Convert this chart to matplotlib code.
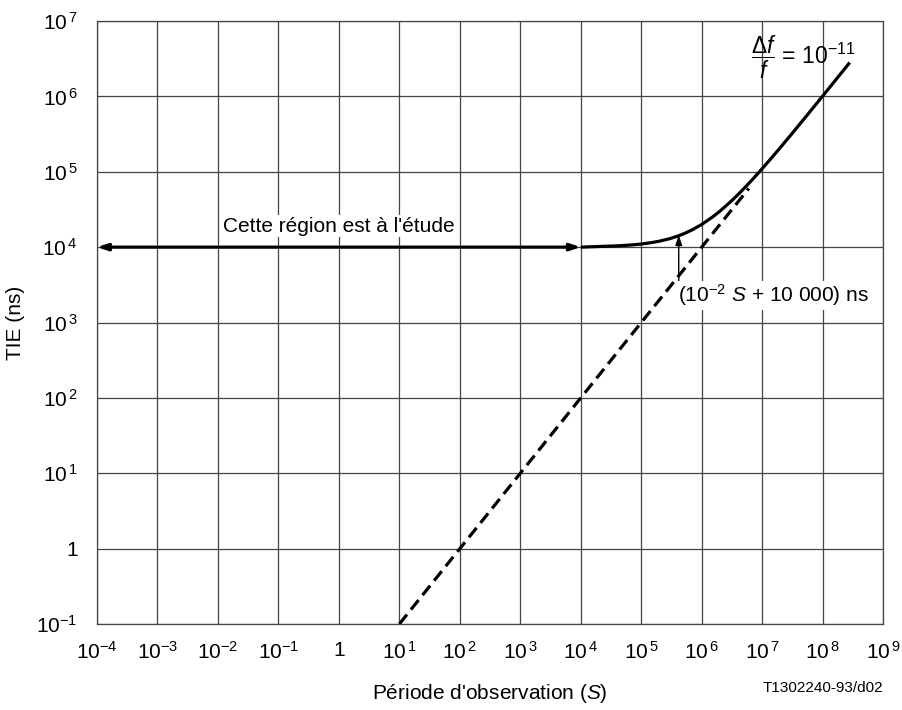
import matplotlib.pyplot as plt

plt.rcParams['font.family'] = ['Liberation Sans', 'DejaVu Sans']
plt.rcParams['mathtext.fontset'] = 'custom'
plt.rcParams['mathtext.rm'] = 'Liberation Sans'
plt.rcParams['mathtext.it'] = 'Liberation Sans:italic'
plt.rcParams['mathtext.default'] = 'regular'

# decades shown on the axes
x_exps = list(range(-4, 10))
y_exps = list(range(-1, 8))

# horizontal region "a l'etude"
region_s = [1e-4, 1e4]
region_tie = 1e4

# mask curve (10^-2 S + 10 000) ns
curve_s = [1e4, 2e4, 4e4, 7e4, 1e5, 1.5e5, 2e5, 3e5, 4e5, 5e5, 7e5, 1e6, 1.5e6,
           2e6, 3e6, 4e6, 5e6, 7e6, 1e7, 1.5e7, 2e7, 3e7, 5e7, 1e8, 2.8e8]
curve_tie = [1.0e4, 1.02e4, 1.04e4, 1.07e4, 1.1e4, 1.15e4, 1.2e4, 1.3e4, 1.4e4,
             1.5e4, 1.7e4, 2.0e4, 2.5e4, 3.0e4, 4.0e4, 5.0e4, 6.0e4, 8.0e4,
             1.1e5, 1.6e5, 2.1e5, 3.1e5, 5.1e5, 1.01e6, 2.81e6]

# dashed asymptote (df/f = 1e-11)
dash_s = [1e1, 6e6]
dash_tie = [1e-1, 6e4]


def tick_label(e):
    if e == 0:
        return '1'
    if e > 0:
        return r'$10^{\,%d}$' % e
    return r'$10^{%d}$' % e


fig = plt.figure(figsize=(9.03, 7.10), dpi=100)
ax = fig.add_axes([0.1074, 0.1211, 0.8706, 0.8493])
ax.set_xscale('log')
ax.set_yscale('log')
ax.set_xlim(1e-4, 1e9)
ax.set_ylim(1e-1, 1e7)

ax.set_xticks([10.0 ** e for e in x_exps])
ax.set_xticklabels([tick_label(e) for e in x_exps])
ax.set_yticks([10.0 ** e for e in y_exps])
ax.set_yticklabels([tick_label(e) for e in y_exps])
ax.minorticks_off()
ax.tick_params(length=0, labelsize=15)
ax.tick_params(axis='x', pad=12)
ax.tick_params(axis='y', pad=14)
ax.grid(True, color='#444444', linewidth=0.9)
for sp in ax.spines.values():
    sp.set_color('#444444')
    sp.set_linewidth(0.9)

ax.annotate('', xy=(region_s[0], region_tie), xytext=(region_s[1], region_tie),
            arrowprops=dict(arrowstyle='<|-|>,head_length=0.6,head_width=0.2',
                            color='black', lw=2.3, shrinkA=0, shrinkB=0))
ax.plot(curve_s, curve_tie, color='black', lw=2.3, solid_capstyle='butt')
ax.plot(dash_s, dash_tie, color='black', lw=2.3, dashes=(3.8, 2.0))

ax.text(1.0, 10 ** 4.28, "Cette région est à l'étude", ha='center', va='center',
        fontsize=15, bbox=dict(facecolor='white', edgecolor='none', pad=1))

ax.annotate('', xy=(10 ** 5.62, 1.45e4), xytext=(10 ** 5.62, 10 ** 3.5),
            arrowprops=dict(arrowstyle='-|>,head_length=0.6,head_width=0.2',
                            color='black', lw=1.0, shrinkA=0, shrinkB=0))
ax.text(10 ** 5.6, 10 ** 3.36, r'(10$^{-2}$ $\mathit{S}$ + 10 000) ns', ha='left',
        va='center', fontsize=15,
        bbox=dict(facecolor='white', edgecolor='none', pad=1))

ax.text(10 ** 6.82, 10 ** 6.52, r'$\dfrac{\mathit{Δf}}{\mathit{f}}$ = 10$^{-11}$',
        ha='left', va='center', fontsize=16.5)

ax.set_ylabel('TIE (ns)', fontsize=15, labelpad=8)
ax.set_xlabel(r"Période d'observation ($\mathit{S}$)", fontsize=15, labelpad=14)
fig.text(0.978, 0.031, 'T1302240-93/d02', ha='right', va='center', fontsize=11)

fig.savefig('out.png', dpi=100)
